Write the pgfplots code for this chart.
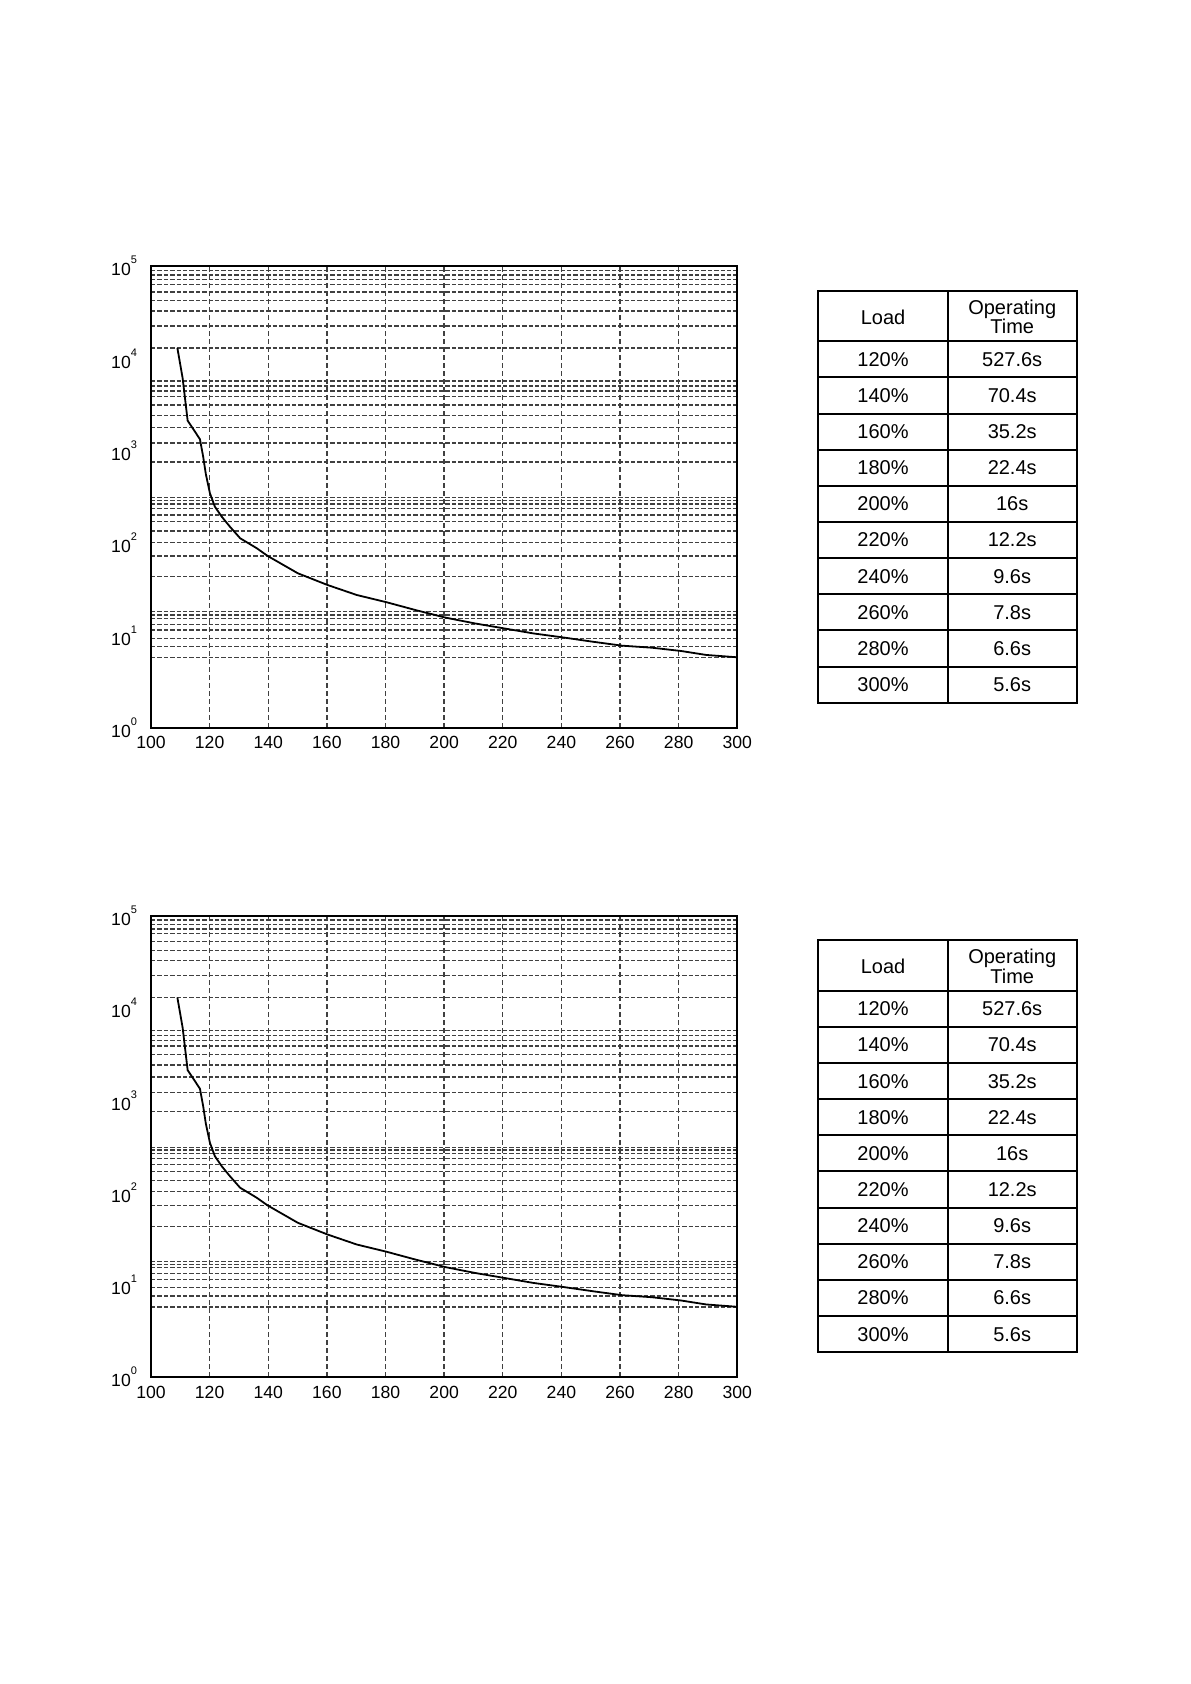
\documentclass[border=0pt]{standalone}
\usepackage{fontspec}
\setmainfont{Liberation Sans}
\usepackage{pgfplots}
\pgfplotsset{compat=1.18}

% superscript exponent for the log tick labels
\newcommand{\ex}[1]{10\raisebox{6pt}{\fontsize{5.5}{6}\selectfont #1}}

\pgfplotsset{
  loadchart/.style={
    scale only axis,
    width=293.15pt, height=230.7pt,
    anchor=south west,
    xmin=100, xmax=300,
    ymin=1, ymax=1e5,
    xtick={100,120,...,300},
    ytick={1,10,100,1000,10000,100000},
    yticklabels={\ex{0},\ex{1},\ex{2},\ex{3},\ex{4},\ex{5}},
    % the scanned grid is irregular, lines are kept where they sit in the picture
    minor ytick={89950,80540,71940,63830,52600,42360,32810,22540,13030,
                 5715,5047,4457,3899,3126,2427,1791,1216,756.8,
                 310.5,291.1,265.5,236.0,201.8,170.6,135.5,102.1,72.61,43.25,
                 18.07,16.63,15.35,13.21,11.46,9.31,7.55,5.79},
    xmajorgrids, ymajorgrids=false, yminorgrids,
    major grid style={black!75, line width=0.7pt, dash pattern=on 2.5pt off 1.5pt},
    minor grid style={black!75, line width=0.7pt, dash pattern=on 2.2pt off 1pt},
    major tick length=0pt, minor tick length=0pt,
    axis line style={line width=1pt},
    tick label style={font=\fontsize{8.8}{10}\selectfont},
    xticklabel style={yshift=-0.8pt},
    yticklabel style={xshift=-3.5pt},
    /pgf/number format/assume math mode=true,
  }
}

\newcommand{\curve}{%
  \addplot[black, line width=0.9pt, mark=none] coordinates {
    (109.0,13000) (110.8,6110) (112.5,2123) (115.0,1614) (116.7,1334)
    (117.8,864) (118.7,561) (120.1,347) (121.8,248) (124.1,194)
    (126.9,151) (130.4,113) (136.1,87.9) (139.8,72.6) (150.1,47.1)
    (160.2,35.2) (170.2,27.4) (180.3,22.9) (190.3,18.8) (200.4,15.6)
    (210.4,13.5) (220.5,11.9) (230.5,10.5) (240.6,9.5) (250.6,8.55)
    (260.7,7.74) (270.8,7.36) (280.8,6.78) (289.4,6.14) (300,5.79)
  };
}

% table in pixel coordinates of the page
\newcommand{\optable}{%
  \draw[line width=1pt] (818.3,291) rectangle (1076.7,702.7);
  \draw[line width=1pt] (947.7,291) -- (947.7,702.7);
  \foreach \k in {0,...,9}
    \draw[line width=1pt] (818.3,{341.3+36.14*\k}) -- (1076.7,{341.3+36.14*\k});
  \node[font=\fontsize{10}{11}\selectfont] at (883,317) {Load};
  \node[font=\fontsize{10}{9.8}\selectfont, align=center] at (1012.2,317) {Operating\\Time};
  \foreach \l/\t [count=\i] in {120\%/527.6s, 140\%/70.4s, 160\%/35.2s,
      180\%/22.4s, 200\%/16s, 220\%/12.2s, 240\%/9.6s, 260\%/7.8s,
      280\%/6.6s, 300\%/5.6s} {
    \node[font=\fontsize{10}{11}\selectfont] at (883,{341.3+36.14*(\i-0.5)}) {\l};
    \node[font=\fontsize{10}{11}\selectfont] at (1012.2,{341.3+36.14*(\i-0.5)}) {\t};
  }
}

\begin{document}
\begin{tikzpicture}
\path[use as bounding box] (0,0) rectangle (595pt,842pt);

\begin{semilogyaxis}[loadchart, at={(75.5pt,478.15pt)}]
  \curve
\end{semilogyaxis}

\begin{semilogyaxis}[loadchart, at={(75.5pt,153.4pt)}]
  \curve
\end{semilogyaxis}

\begin{scope}[x=0.5pt, y=-0.5pt, yshift=842pt]
  \optable
  \begin{scope}[shift={(0,649.5)}]
    \optable
  \end{scope}
\end{scope}
\end{tikzpicture}
\end{document}
